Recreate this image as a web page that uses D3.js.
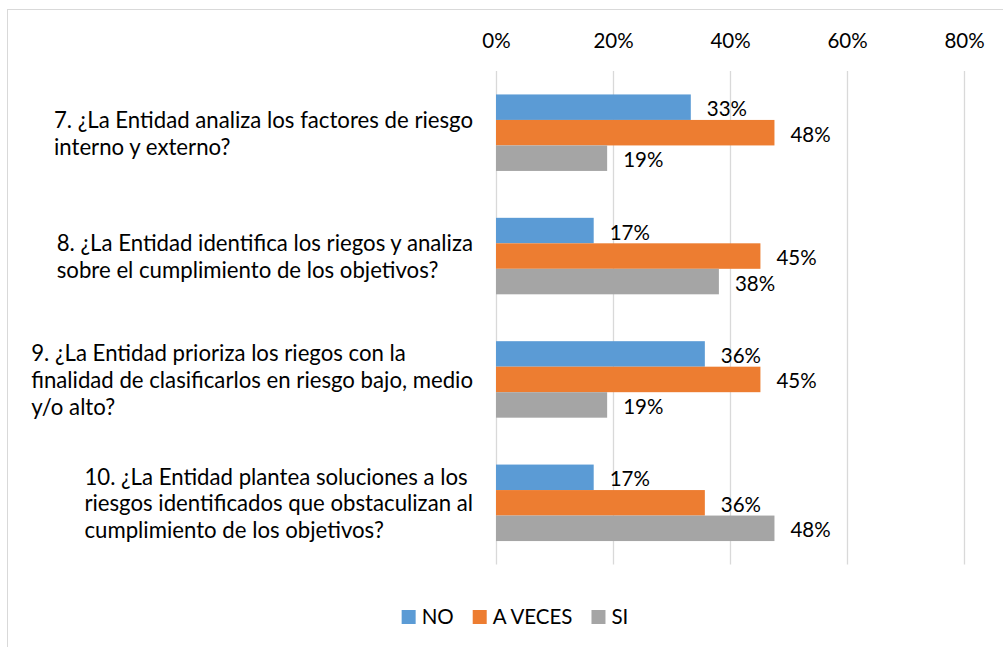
<!DOCTYPE html>
<html>
<head>
<meta charset="utf-8">
<script src="https://cdnjs.cloudflare.com/ajax/libs/d3/7.8.5/d3.min.js"></script>
<style>
  body { margin: 0; background: #fff; }
  svg { display: block; font-family: Lato, "Open Sans", sans-serif; }
</style>
</head>
<body>
<svg class="chart"></svg>
<script>
var width = 1003,
    height = 647;

// questions (wrapped as in the original)
var categories = ["q7", "q8", "q9", "q10"];
var questionLines = [
    ["7. ¿La Entidad analiza los factores de riesgo", "interno y externo?"],
    ["8. ¿La Entidad identifica los riegos y analiza", "sobre el cumplimiento de los objetivos?"],
    ["9. ¿La Entidad prioriza los riegos con la", "finalidad de clasificarlos en riesgo bajo, medio", "y/o alto?"],
    ["10. ¿La Entidad plantea soluciones a los", "riesgos identificados que obstaculizan al", "cumplimiento de los objetivos?"]
];
var series = ["NO", "A VECES", "SI"];
var colors = ["#5B9BD5", "#ED7D31", "#A5A5A5"];
var noValues = [0.333, 0.167, 0.357, 0.167];
var aVecesValues = [0.476, 0.452, 0.452, 0.357];
var siValues = [0.190, 0.381, 0.190, 0.476];
var tickValues = [0, 0.2, 0.4, 0.6, 0.8];

var data = categories.map(function (c, i) {
    return {
        cat: c,
        lines: questionLines[i],
        values: [noValues[i], aVecesValues[i], siValues[i]]
    };
});

var chart = d3.select(".chart")
    .attr("width", width)
    .attr("height", height);

chart.append("rect")
    .attr("width", width)
    .attr("height", height)
    .attr("fill", "#fff");

// outer chart border (right / bottom fall outside the picture)
chart.append("rect")
    .attr("x", 7.5)
    .attr("y", 9.5)
    .attr("width", 1100)
    .attr("height", 800)
    .attr("fill", "none")
    .attr("stroke", "#d9d9d9")
    .attr("stroke-width", 1);

var x = d3.scaleLinear()
    .domain([0, 0.8])
    .range([496, 964]);

var y = d3.scaleBand()
    .domain(categories)
    .range([71, 564.5]);

var gap = y.bandwidth() * 0.19;
var ySub = d3.scaleBand()
    .domain(series)
    .range([gap, y.bandwidth() - gap]);

// grid lines
var grid = d3.axisBottom(x)
    .tickValues(tickValues)
    .tickFormat("")
    .tickSize(y.range()[1] - y.range()[0]);

chart.append("g")
    .attr("class", "grid")
    .attr("transform", "translate(0," + y.range()[0] + ")")
    .call(grid)
    .call(function (g) { g.select(".domain").remove(); })
    .selectAll("line")
    .attr("stroke", "#d9d9d9")
    .attr("stroke-width", 1.3);

// top axis labels
var xAxis = d3.axisTop(x)
    .tickValues(tickValues)
    .tickFormat(d3.format(".0%"))
    .tickSize(0)
    .tickPadding(0);

chart.append("g")
    .attr("class", "xAxis")
    .attr("transform", "translate(0,48)")
    .call(xAxis)
    .call(function (g) { g.select(".domain").remove(); })
    .selectAll("text")
    .attr("font-family", "Lato, sans-serif")
    .attr("font-size", 20.5)
    .attr("fill", "#000");

var groups = chart.selectAll(".group")
    .data(data)
    .enter()
    .append("g")
    .attr("class", "group")
    .attr("transform", function (d) { return "translate(0," + y(d.cat) + ")"; });

groups.selectAll(".bar")
    .data(function (d) { return d.values.map(function (v, i) { return { s: series[i], v: v, i: i }; }); })
    .enter()
    .append("rect")
    .attr("class", "bar")
    .attr("x", x(0))
    .attr("y", function (d) { return ySub(d.s); })
    .attr("width", function (d) { return x(d.v) - x(0); })
    .attr("height", ySub.bandwidth())
    .attr("fill", function (d) { return colors[d.i]; });

groups.selectAll(".val")
    .data(function (d) { return d.values.map(function (v, i) { return { s: series[i], v: v, i: i }; }); })
    .enter()
    .append("text")
    .attr("class", "val")
    .attr("x", function (d) { return x(d.v) + 16; })
    .attr("y", function (d) { return ySub(d.s) + ySub.bandwidth() / 2 + 9; })
    .attr("font-size", 20.5)
    .attr("fill", "#000")
    .text(function (d) { return d3.format(".0%")(d.v); });

// category labels: lines left aligned, block right aligned to the axis
var lineH = 26.7;
var labels = chart.selectAll(".cat")
    .data(data)
    .enter()
    .append("text")
    .attr("class", "cat")
    .attr("font-size", 22.2)
    .attr("fill", "#000");

labels.each(function (d) {
    var t = d3.select(this);
    var n = d.lines.length;
    var cy = y(d.cat) + y.bandwidth() / 2;
    d.lines.forEach(function (l, i) {
        t.append("tspan")
            .attr("y", cy + (i - (n - 1) / 2) * lineH + 8.5)
            .text(l);
    });
    var maxW = 0;
    t.selectAll("tspan").each(function () {
        maxW = Math.max(maxW, this.getComputedTextLength());
    });
    t.selectAll("tspan").attr("x", 473 - maxW);
});

// legend
var legend = chart.append("g").attr("class", "legend");
var lx = 0;
series.forEach(function (s, i) {
    var item = legend.append("g").attr("transform", "translate(" + lx + ",0)");
    item.append("rect")
        .attr("x", 0)
        .attr("y", 610)
        .attr("width", 14)
        .attr("height", 14)
        .attr("fill", colors[i]);
    var tx = item.append("text")
        .attr("x", 20)
        .attr("y", 624)
        .attr("font-size", 20.5)
        .attr("fill", "#000")
        .text(s);
    lx += 20 + tx.node().getComputedTextLength() + 19;
});
var legW = lx - 19;
legend.attr("transform", "translate(" + (515 - legW / 2) + ",0)");
</script>
</body>
</html>
